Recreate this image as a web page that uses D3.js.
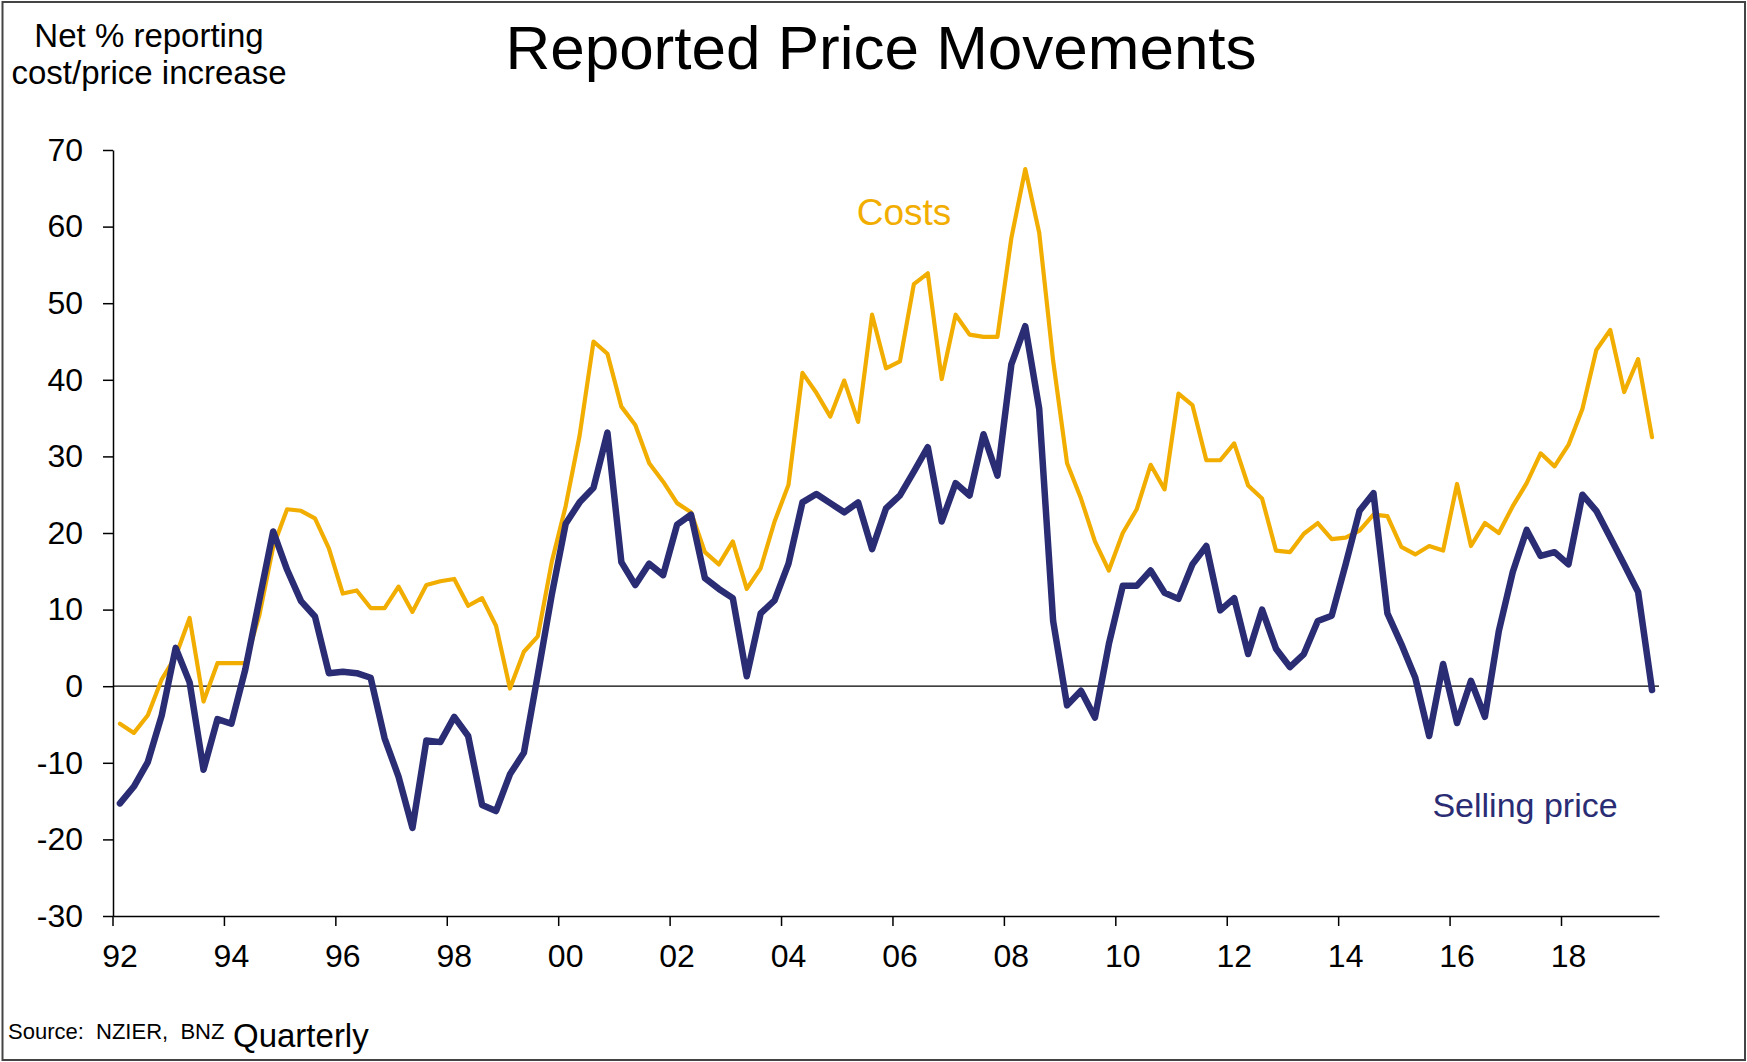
<!DOCTYPE html>
<html>
<head>
<meta charset="utf-8">
<script src="https://cdn.jsdelivr.net/npm/d3@7"></script>
<style>
    body { margin: 0; background: #fff; }
    text { font-family: "Liberation Sans", Arial, sans-serif; }
</style>
</head>
<body>
<div id="chart"></div>
<script>
// Quarterly series, 1992 Q1 to 2019 Q3
var costs = [
    -4.9, -6.1, -3.8, 0.9, 3.9, 8.9, -2.0, 3.0, 3.0, 3.0,
    9.2, 18.2, 23.1, 22.9, 21.9, 18.0, 12.1, 12.5, 10.2, 10.2,
    13.0, 9.7, 13.2, 13.7, 14.0, 10.5, 11.5, 7.9, -0.3, 4.5,
    6.5, 16.2, 23.5, 32.7, 45.0, 43.4, 36.5, 34.1, 29.1, 26.7,
    23.9, 22.7, 17.5, 15.9, 18.9, 12.7, 15.4, 21.5, 26.3, 40.9,
    38.3, 35.2, 39.9, 34.5, 48.5, 41.5, 42.4, 52.5, 53.9, 40.1,
    48.5, 45.9, 45.6, 45.6, 58.5, 67.5, 59.2, 42.5, 29.1, 24.5,
    18.9, 15.1, 20.0, 23.1, 28.9, 25.7, 38.2, 36.7, 29.5, 29.5,
    31.7, 26.2, 24.5, 17.7, 17.5, 19.9, 21.3, 19.2, 19.4, 20.3,
    22.4, 22.2, 18.2, 17.2, 18.3, 17.7, 26.4, 18.3, 21.3, 20.0,
    23.5, 26.5, 30.4, 28.7, 31.5, 36.2, 43.9, 46.5, 38.4, 42.7, 32.5
];

var sellingPrice = [
    -15.3, -13.1, -9.9, -3.8, 5.0, 0.5, -10.9, -4.3, -4.9, 2.2,
    11.2, 20.2, 15.2, 11.1, 9.1, 1.7, 1.9, 1.7, 1.1, -6.8,
    -11.8, -18.5, -7.1, -7.3, -4.0, -6.5, -15.5, -16.3, -11.5, -8.7,
    1.5, 11.9, 21.2, 24.0, 25.9, 33.1, 16.2, 13.2, 16.0, 14.5,
    21.1, 22.4, 14.1, 12.7, 11.5, 1.3, 9.5, 11.2, 16.0, 24.0,
    25.1, 23.9, 22.7, 24.0, 17.9, 23.2, 24.9, 28.0, 31.2, 21.5,
    26.5, 24.9, 32.9, 27.5, 42.0, 47.0, 36.2, 8.5, -2.5, -0.6,
    -4.1, 5.5, 13.1, 13.1, 15.1, 12.2, 11.4, 15.9, 18.3, 9.9,
    11.5, 4.2, 10.0, 4.9, 2.5, 4.2, 8.5, 9.2, 15.9, 22.9,
    25.2, 9.5, 5.5, 1.1, -6.5, 2.9, -4.8, 0.7, -4.0, 7.2,
    14.9, 20.4, 17.0, 17.5, 15.9, 25.0, 22.9, 19.4, 15.9, 12.3, -0.5
];

// One label every 8 quarters
var yearLabels = ["92", "94", "96", "98", "00", "02", "04", "06", "08", "10", "12", "14", "16", "18"];
var yTicks = [-30, -20, -10, 0, 10, 20, 30, 40, 50, 60, 70];

var W = 1747, H = 1062;
var margin = {left: 113, right: 88, top: 150, bottom: 146};

var svg = d3.select("#chart").append("svg")
    .attr("width", W)
    .attr("height", H);

// Outer frame
svg.append("rect")
    .attr("x", 2.5).attr("y", 2)
    .attr("width", W - 4.5).attr("height", H - 4)
    .attr("fill", "none")
    .attr("stroke", "#444")
    .attr("stroke-width", 2);

// Category scale: one band per quarter
var x = d3.scaleBand()
    .domain(d3.range(costs.length))
    .range([margin.left, W - margin.right])
    .padding(0);
var bw = x.bandwidth();

var y = d3.scaleLinear()
    .domain([-30, 70])
    .range([H - margin.bottom, margin.top]);

// Y axis (plain hyphen for negatives, like the original)
var yAxis = svg.append("g")
    .attr("transform", "translate(" + margin.left + ",0)")
    .call(d3.axisLeft(y).tickValues(yTicks).tickSize(10).tickPadding(20).tickSizeOuter(0)
        .tickFormat(function (d) { return String(d); }));
yAxis.selectAll("text").style("font-size", "32px").attr("fill", "#000");
yAxis.selectAll("line, path").attr("stroke", "#000").attr("stroke-width", 1.5);

// X axis: ticks at band edges, labels centred on the quarter
var tickIdx = d3.range(0, costs.length, 8);
var xAxis = svg.append("g")
    .attr("transform", "translate(0," + y(-30) + ")")
    .call(d3.axisBottom(x).tickValues(tickIdx).tickSize(10).tickSizeOuter(0)
        .tickFormat(function (d, i) { return yearLabels[i]; }));
xAxis.selectAll(".tick").attr("transform", function (d) {
    return "translate(" + x(d) + ",0)";
});
xAxis.selectAll("text")
    .attr("x", bw / 2)
    .attr("y", 51)
    .attr("dy", "0")
    .style("font-size", "32px")
    .attr("fill", "#000");
xAxis.selectAll("line, path").attr("stroke", "#000").attr("stroke-width", 1.5);

// Zero line
svg.append("line")
    .attr("x1", margin.left).attr("x2", W - margin.right)
    .attr("y1", y(0)).attr("y2", y(0))
    .attr("stroke", "#000")
    .attr("stroke-width", 1.2);

var line = d3.line()
    .x(function (d, i) { return x(i) + bw / 2; })
    .y(function (d) { return y(d); });

svg.append("path")
    .datum(costs)
    .attr("d", line)
    .attr("fill", "none")
    .attr("stroke", "#F2AE00")
    .attr("stroke-width", 4.2)
    .attr("stroke-linejoin", "round")
    .attr("stroke-linecap", "round");

svg.append("path")
    .datum(sellingPrice)
    .attr("d", line)
    .attr("fill", "none")
    .attr("stroke", "#2A2C74")
    .attr("stroke-width", 6.5)
    .attr("stroke-linejoin", "round")
    .attr("stroke-linecap", "round");

// Series labels
svg.append("text")
    .attr("x", 904).attr("y", 225)
    .attr("text-anchor", "middle")
    .style("font-size", "37px")
    .attr("fill", "#F2AE00")
    .text("Costs");

svg.append("text")
    .attr("x", 1525).attr("y", 817)
    .attr("text-anchor", "middle")
    .style("font-size", "34px")
    .attr("fill", "#2A2C74")
    .text("Selling price");

// Titles
svg.append("text")
    .attr("x", 881).attr("y", 69)
    .attr("text-anchor", "middle")
    .style("font-size", "62px")
    .text("Reported Price Movements");

var yTitle = svg.append("text")
    .attr("text-anchor", "middle")
    .style("font-size", "33px");
yTitle.append("tspan").attr("x", 149).attr("y", 47).text("Net % reporting");
yTitle.append("tspan").attr("x", 149).attr("y", 84).text("cost/price increase");

// Footer
svg.append("text")
    .attr("x", 8).attr("y", 1039)
    .style("font-size", "22px")
    .attr("xml:space", "preserve")
    .text("Source:  NZIER,  BNZ");

svg.append("text")
    .attr("x", 233).attr("y", 1047)
    .style("font-size", "33px")
    .text("Quarterly");
</script>
</body>
</html>
